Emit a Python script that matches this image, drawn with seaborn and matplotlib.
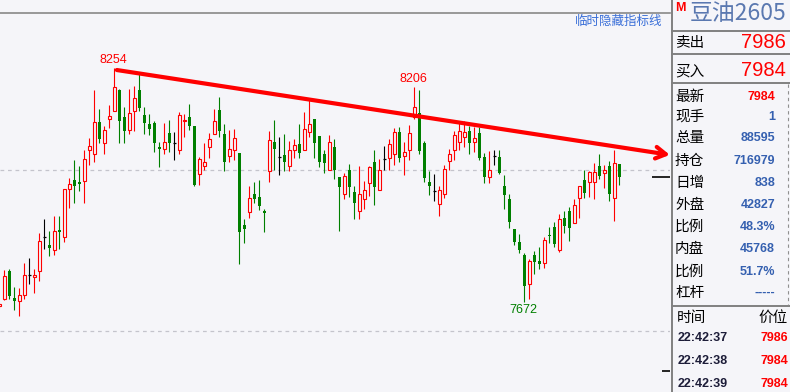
import numpy as np
import pandas as pd
import matplotlib
matplotlib.use("Agg")
import matplotlib.pyplot as plt
import seaborn as sns
from matplotlib.lines import Line2D

# ---------------- data ----------------
opens = [7661, 7679, 7749, 7682, 7675, 7689, 7738, 7734, 7750, 7833,
         7814, 7802, 7851, 7833, 7954, 7976, 7971, 7974, 8049, 8039,
         8120, 8067, 8128, 8146, 8199, 8132, 8101, 8146, 8199, 8137,
         8115, 8118, 8058, 8052, 8092, 8067, 8051, 8121, 8131, 8110,
         7990, 8010, 8057, 8089, 8150, 8090, 8034, 8049, 8043, 7864,
         7895, 7941, 7933, 7898, 7997, 8070, 8032, 8038, 8011, 8049,
         8065, 8049, 8094, 8126, 8085, 8040, 8000, 8057, 7983, 7940,
         8000, 7945, 7898, 7928, 7967, 8019, 7950, 8027, 8029, 8039,
         8095, 8036, 8049, 8131, 8141, 8068, 7971, 7947, 7917, 7940,
         8022, 8049, 8069, 8082, 8098, 8069, 8092, 8032, 7984, 8036,
         8032, 7961, 7928, 7854, 7821, 7789, 7716, 7789, 7774, 7768,
         7839, 7858, 7801, 7880, 7898, 7868, 7930, 7976, 7970, 7970,
         8010, 7992, 8010, 7930, 8015]
highs = [7670, 7752, 7754, 7709, 7708, 7769, 7782, 7753, 7844, 7879,
         7848, 7887, 7887, 7952, 7981, 8026, 8010, 8049, 8079, 8199,
         8152, 8110, 8163, 8254, 8201, 8157, 8201, 8209, 8239, 8158,
         8140, 8123, 8071, 8117, 8125, 8095, 8145, 8140, 8165, 8110,
         8033, 8067, 8092, 8152, 8182, 8115, 8100, 8102, 8043, 7879,
         7961, 7971, 7976, 7903, 8097, 8125, 8082, 8090, 8073, 8078,
         8115, 8145, 8175, 8126, 8085, 8050, 8087, 8078, 7983, 7992,
         8015, 7961, 8010, 7973, 8010, 8050, 8028, 8059, 8077, 8105,
         8107, 8070, 8112, 8206, 8199, 8072, 7998, 7990, 7961, 8012,
         8052, 8097, 8122, 8123, 8111, 8107, 8108, 8042, 8048, 8050,
         8050, 7988, 7941, 7854, 7842, 7795, 7779, 7799, 7808, 7833,
         7858, 7871, 7891, 7899, 7908, 7928, 7960, 8000, 7998, 8017,
         8039, 8014, 8022, 8050, 8015]
lows = [7656, 7677, 7679, 7651, 7637, 7679, 7717, 7695, 7725, 7804,
        7787, 7790, 7805, 7821, 7907, 7919, 7948, 7919, 8012, 8021,
        8068, 8039, 8106, 8146, 8068, 8068, 8090, 8098, 8148, 8090,
        8088, 8046, 8009, 8041, 8046, 8026, 8039, 8083, 8099, 7961,
        7962, 8000, 8029, 8089, 8082, 7999, 8019, 8026, 7767, 7820,
        7882, 7919, 7902, 7847, 7971, 8000, 7989, 7999, 7997, 8031,
        8029, 8049, 8083, 8029, 8009, 7994, 8000, 7979, 7849, 7927,
        7932, 7879, 7879, 7904, 7935, 7914, 7950, 8000, 8001, 8014,
        8019, 7989, 8025, 8128, 8041, 7971, 7939, 7922, 7885, 7930,
        8000, 8024, 8049, 8058, 8039, 8046, 8026, 7969, 7969, 8014,
        7990, 7904, 7857, 7815, 7795, 7672, 7680, 7741, 7753, 7757,
        7820, 7810, 7797, 7843, 7824, 7868, 7882, 7930, 7932, 7927,
        7979, 7956, 7924, 7874, 7964]
closes = [7667, 7737, 7687, 7675, 7689, 7738, 7738, 7739, 7823, 7833,
          7807, 7848, 7846, 7952, 7965, 7961, 7966, 8028, 8060, 8120,
          8078, 8100, 8135, 8206, 8123, 8098, 8141, 8180, 8155, 8118,
          8103, 8067, 8053, 8070, 8068, 8067, 8136, 8125, 8111, 7964,
          8028, 8020, 8077, 8121, 8098, 8021, 8052, 8079, 7847, 7853,
          7931, 7927, 7912, 7894, 8074, 8052, 8032, 8019, 8050, 8062,
          8042, 8102, 8114, 8068, 8021, 8017, 8070, 8000, 7959, 7985,
          7959, 7919, 7940, 7950, 8007, 7959, 8000, 8027, 8064, 8095,
          8029, 8044, 8092, 8156, 8048, 7981, 7961, 7947, 7951, 8003,
          8039, 8087, 8097, 8095, 8068, 8080, 8031, 7984, 8000, 8036,
          7993, 7939, 7872, 7822, 7801, 7713, 7774, 7772, 7766, 7826,
          7835, 7817, 7878, 7862, 7857, 7913, 7960, 7944, 7995, 7995,
          7986, 8000, 7940, 8017, 7984]

extreme_idx = [23, 83, 105]
extreme_val = [8254, 8206, 7672]
extreme_kind = ["high", "high", "low"]

trend_x = [23.5, 134.1]
trend_y = [8249, 8038]
grid_levels = [8000, 7600]
marker_levels = [7984, 7500]

title_code = "豆油2605"
ask_label, ask_price = "卖出", "7986"
bid_label, bid_price = "买入", "7984"
stat_labels = ["最新", "现手", "总量", "持仓", "日增", "外盘", "比例", "内盘", "比例", "杠杆"]
stat_values = ["7984", "1", "88595", "716979", "838", "42827", "48.3%", "45768", "51.7%", "-----"]
tick_times = ["22:42:37", "22:42:38", "22:42:39"]
tick_prices = ["7986", "7984", "7984"]

# ---------------- style ----------------
W, H = 790, 392
BG = "#f5f5f9"
RED = "#ff0000"
GREEN = "#007f00"
BLUE = "#3560b0"

sns.set_theme(style="white")
plt.rcParams["font.family"] = ["Noto Sans CJK SC", "DejaVu Sans"]

fig = plt.figure(figsize=(W / 100, H / 100), dpi=100, facecolor=BG)
ax = fig.add_axes([0, 0, 670 / W, 379 / H])
ax.set_facecolor(BG)

df = pd.DataFrame({"o": opens, "h": highs, "l": lows, "c": closes})
df["i"] = np.arange(len(df))
df["col"] = np.where(df.c > df.o, RED, np.where(df.c < df.o, GREEN, "black"))

ax.vlines(df.i, df.l, df.h, colors=df.col, lw=0.8)
up = df[df.c > df.o]
dn = df[df.c < df.o]
dj = df[df.c == df.o]
ax.bar(up.i, up.c - up.o, bottom=up.o, width=0.6, facecolor=BG,
       edgecolor=RED, linewidth=0.8, zorder=3)
ax.bar(dn.i, dn.o - dn.c, bottom=dn.c, width=0.72, color=GREEN,
       linewidth=0, zorder=3)
ax.hlines(dj.o, dj.i - 0.36, dj.i + 0.36, colors="black", lw=0.9, zorder=3)

for lv in grid_levels:
    ax.axhline(lv, color="#c4c4cc", lw=0.9, ls=(0, (3, 3)), zorder=1)

for k, v, kind in zip(extreme_idx, extreme_val, extreme_kind):
    if kind == "high":
        ax.annotate(str(v), (k, v), xytext=(-1, 2), textcoords="offset pixels",
                    ha="center", va="bottom", color=RED, fontsize=9,
                    family="Liberation Sans")
    else:
        ax.annotate(str(v), (k, v), xytext=(-1, -2), textcoords="offset pixels",
                    ha="center", va="top", color=GREEN, fontsize=9,
                    family="Liberation Sans")

ax.annotate("", xy=(trend_x[1], trend_y[1]), xytext=(trend_x[0], trend_y[0]),
            arrowprops=dict(arrowstyle="->,head_length=0.6,head_width=0.35",
                            color=RED, lw=3, shrinkA=0, shrinkB=0),
            annotation_clip=False, zorder=5)

ax.hlines(marker_levels[0], 130.5, 134.2, colors="black", lw=1.2, clip_on=False)
ax.hlines(marker_levels[1], 132.5, 134.2, colors="black", lw=1.2, clip_on=False)

ax.set_xlim(0.134, 134.134)
ax.set_ylim(7448.2, 8390.8)
ax.set_xticks([])
ax.set_yticks([])
for s in ["left", "right", "bottom"]:
    ax.spines[s].set_visible(False)
ax.spines["top"].set_color("#888888")
ax.spines["top"].set_linewidth(1.2)

ax.text(662 / 670, 1 - 2 / 379, "临时隐藏指标线", transform=ax.transAxes,
        ha="right", va="top", color="#3a6fd8", fontsize=9)


# ---------------- right info panel ----------------
def fx(x):
    return x / W


def fy(y):
    return 1 - y / H


def hline(y, x0, x1, **kw):
    fig.add_artist(Line2D([fx(x0), fx(x1)], [fy(y), fy(y)], transform=fig.transFigure, **kw))


def vline(x, y0, y1, **kw):
    fig.add_artist(Line2D([fx(x), fx(x)], [fy(y0), fy(y1)], transform=fig.transFigure, **kw))


vline(672, 0, 392, color="#808080", lw=1.4)
for yy in [31, 54, 83, 306]:
    hline(yy, 672, 790, color="#808080", lw=1.4)
vline(788, 84, 305, color="#909090", lw=0.8, ls=(0, (3, 3)))

fig.text(fx(675), fy(8), "M", color=RED, fontsize=9, fontweight="bold",
         family="Liberation Sans", ha="left", va="center")
fig.text(fx(690), fy(13), title_code, color="#5a78b0", fontsize=16.5,
         ha="left", va="center")

fig.text(fx(675), fy(43), ask_label, color="black", fontsize=10.5, ha="left", va="center")
fig.text(fx(786), fy(43), ask_price, color=RED, fontsize=14.5,
         family="Liberation Sans", ha="right", va="center")
fig.text(fx(675), fy(71), bid_label, color="black", fontsize=10.5, ha="left", va="center")
fig.text(fx(786), fy(71), bid_price, color=RED, fontsize=14.5,
         family="Liberation Sans", ha="right", va="center")

row_y = [97, 117, 138, 161, 183, 205, 227, 249, 272, 293]
for lab, val, yy in zip(stat_labels, stat_values, row_y):
    fig.text(fx(675), fy(yy), lab, color="black", fontsize=10.5, ha="left", va="center")
    fig.text(fx(775), fy(yy), val, color=RED if lab == "最新" else BLUE,
             fontsize=9, fontweight="bold", family="Liberation Sans",
             ha="right", va="center")

fig.text(fx(677), fy(318), "时间", color="black", fontsize=10.5, ha="left", va="center")
fig.text(fx(788), fy(318), "价位", color="black", fontsize=10.5, ha="right", va="center")
for t, p, yy in zip(tick_times, tick_prices, [338, 361, 384]):
    fig.text(fx(678), fy(yy), t, color="#1c1c38", fontsize=9, fontweight="bold",
             family="Liberation Sans", ha="left", va="center")
    fig.text(fx(788), fy(yy), p, color=RED, fontsize=9, fontweight="bold",
             family="Liberation Sans", ha="right", va="center")

fig.savefig("out.png", dpi=100, facecolor=BG)
